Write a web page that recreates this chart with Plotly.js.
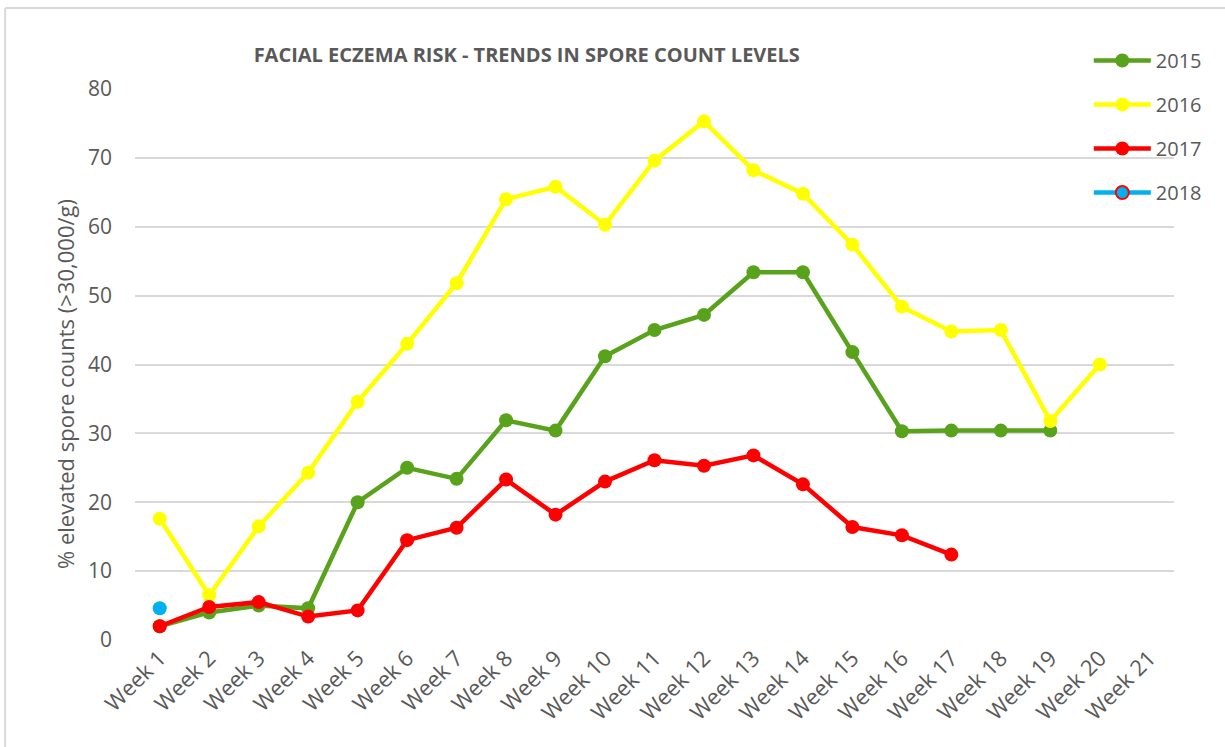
<!DOCTYPE html>
<html>
<head>
<meta charset="utf-8">
<script src="https://cdn.plot.ly/plotly-3.0.1.min.js"></script>
<style>
html,body{margin:0;padding:0;background:#fff;}
#chart{width:1225px;height:747px;}
</style>
</head>
<body>
<div id="chart"></div>
<script>
var weeks = ["Week 1","Week 2","Week 3","Week 4","Week 5","Week 6","Week 7","Week 8","Week 9","Week 10","Week 11","Week 12","Week 13","Week 14","Week 15","Week 16","Week 17","Week 18","Week 19","Week 20","Week 21"];
var y2015 = [2.0,4.0,5.0,4.6,20.0,25.0,23.4,31.9,30.4,41.2,45.0,47.2,53.4,53.4,41.8,30.3,30.4,30.4,30.4,null,null];
var y2016 = [17.6,6.5,16.5,24.3,34.6,43.0,51.8,64.0,65.8,60.3,69.6,75.3,68.2,64.8,57.4,48.4,44.8,45.0,31.8,40.0,null];
var y2017 = [2.0,4.8,5.5,3.4,4.3,14.5,16.3,23.3,18.2,23.0,26.1,25.3,26.8,22.6,16.4,15.2,12.4,null,null,null,null];
var y2018 = [4.6,null,null,null,null,null,null,null,null,null,null,null,null,null,null,null,null,null,null,null,null];
var seriesNames = ["2015","2016","2017","2018"];
var yTitle = "% elevated spore counts (>30,000/g)";
var chartTitle = "FACIAL ECZEMA RISK - TRENDS IN SPORE COUNT LEVELS";

var grey = "#595959";
var fontFam = "'Open Sans', sans-serif";

function lineTrace(name, y, color, group) {
  return {
    type: "scatter", mode: "lines+markers", name: name, x: weeks, y: y,
    line: {color: color, width: 4.5}, marker: {color: color, size: 14},
    legendgroup: group, connectgaps: false
  };
}
var traces = [
  lineTrace(seriesNames[0], y2015, "#58A21C", "a"),
  lineTrace(seriesNames[1], y2016, "#FFFF00", "b"),
  lineTrace(seriesNames[2], y2017, "#FF0000", "c"),
  {type:"scatter", mode:"markers", name: seriesNames[3], x: weeks, y: y2018,
   marker:{color:"#00B0F0", size:14}, showlegend:false, legendgroup:"d"},
  {type:"scatter", mode:"lines+markers", name: seriesNames[3], x: [weeks[20]], y: [null],
   line:{color:"#00B0F0", width:4.5}, marker:{color:"#00B0F0", size:13, line:{color:"#FF0000", width:2}}, legendgroup:"d"}
];

var layout = {
  width: 1225, height: 747,
  margin: {l: 135, r: 51, t: 89, b: 107},
  paper_bgcolor: "#fff", plot_bgcolor: "#fff",
  font: {family: fontFam, color: grey, size: 20},
  title: {text: "<b>" + chartTitle + "</b>",
          font: {family: fontFam, size: 20, color: grey},
          x: 0.43, xanchor: "center", y: 0.926, yanchor: "middle", xref: "container", yref: "container"},
  xaxis: {type: "category", range: [-0.5, 20.5], tickangle: -45, showgrid: false,
          showline: false, zeroline: false, ticks: "", tickfont: {size: 22, color: grey}, automargin: false},
  yaxis: {range: [0, 80], dtick: 10, showgrid: true, gridcolor: "#d9d9d9", gridwidth: 2,
          zeroline: false, showline: false, ticks: "", tickfont: {size: 21, color: grey},
          ticklabelstandoff: 22, automargin: false},
  annotations: [
    {text: yTitle, xref: "paper", yref: "paper", x: -0.0674, y: 0.4646, xanchor: "center", yanchor: "middle",
     textangle: -90, showarrow: false, font: {size: 22, color: grey}}
  ],
  showlegend: true,
  legend: {x: 0.918, xanchor: "left", y: 1.087, yanchor: "top", bgcolor: "rgba(0,0,0,0)",
           font: {size: 20, color: grey}, traceorder: "grouped", tracegroupgap: 15, itemwidth: 57},
  shapes: [
    {type: "line", xref: "paper", yref: "paper", x0: -0.125, x1: 1.1, y0: 1.147, y1: 1.147, line: {color: "#d9d9d9", width: 2}},
    {type: "line", xref: "paper", yref: "paper", x0: -0.125, x1: -0.125, y0: 1.147, y1: -0.25, line: {color: "#d9d9d9", width: 2}}
  ]
};
Plotly.newPlot("chart", traces, layout, {displayModeBar: false});
</script>
</body>
</html>
